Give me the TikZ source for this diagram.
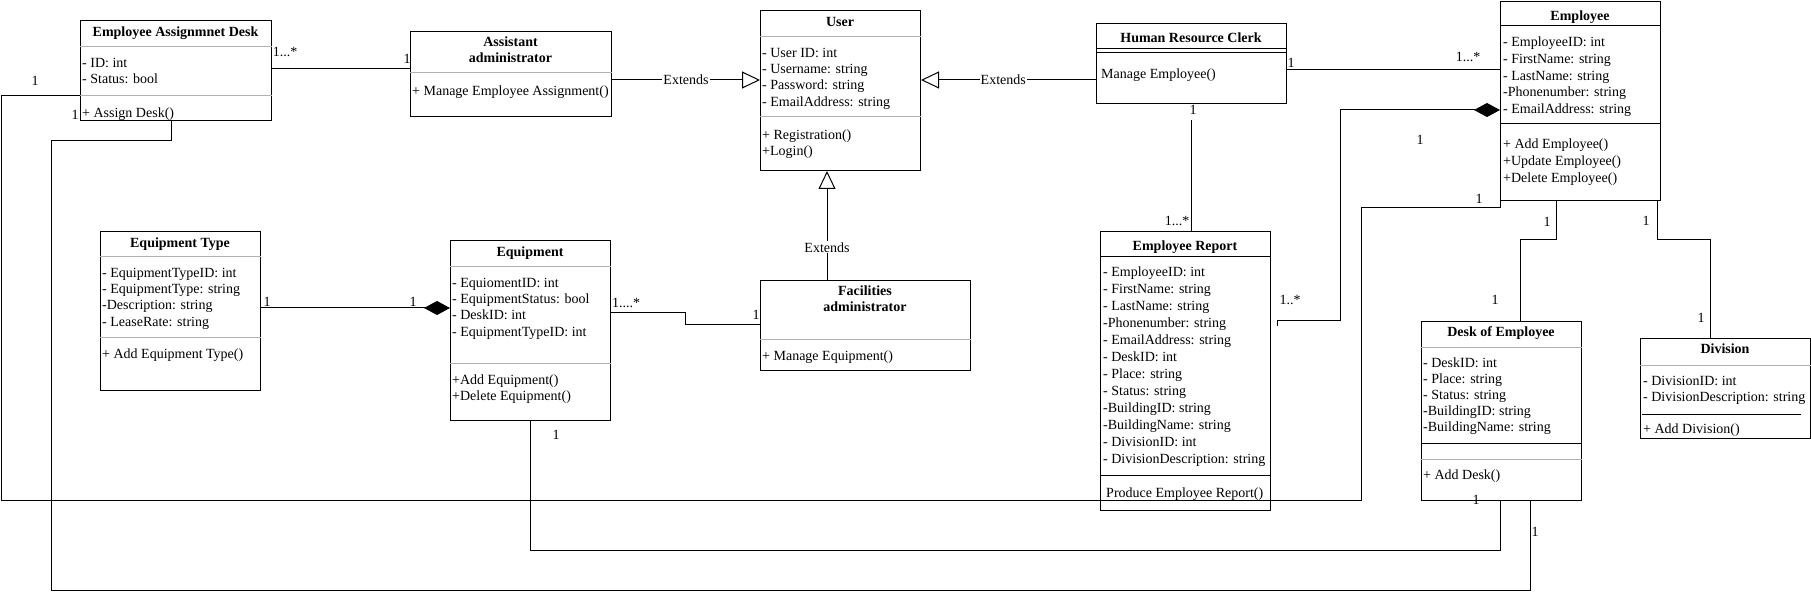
\documentclass[tikz,border=0pt]{standalone}
\usepackage{fontspec}
\setmainfont{Liberation Serif}
\usetikzlibrary{arrows.meta}
\tikzset{
 cls/.style={draw, line width=1pt, inner sep=0pt, anchor=north west},
 ttl/.style={font=\fontsize{14}{16.2}\selectfont\bfseries, inner sep=0pt, anchor=north, align=center},
 body/.style={font=\fontsize{14}{16.2}\selectfont, inner sep=0pt, anchor=north west, align=left},
 bodyemp/.style={font=\fontsize{14}{16.7}\selectfont, inner sep=0pt, anchor=north west, align=left},
 bodyer/.style={font=\fontsize{14}{17}\selectfont, inner sep=0pt, anchor=north west, align=left},
 bodydesk/.style={font=\fontsize{14}{16}\selectfont, inner sep=0pt, anchor=north west, align=left},
 sepg/.style={draw=black!30, line width=1pt},
 sepk/.style={draw=black, line width=1pt},
 conn/.style={draw, line width=1pt},
 lbl/.style={font=\fontsize{14}{16.2}\selectfont, inner sep=0pt},
 extlbl/.style={font=\fontsize{14}{16.2}\selectfont, inner sep=1pt, fill=white},
 ext/.style={-{Triangle[open,length=18pt,width=17pt]}, line width=1pt},
 comp/.style={-{Diamond[length=26pt,width=14pt]}, line width=1pt},
}
\newcommand\umlbox[5]{\node[cls, minimum width=#4pt, minimum height=#5pt] (#1) at (#2,#3) {};}
\begin{document}
\begin{tikzpicture}[x=1pt,y=-1pt]
\useasboundingbox[fill=white] (0,0) rectangle (1811,593);

% ---------- class boxes ----------
\umlbox{ead}{80}{20}{191}{100}
\umlbox{asst}{410}{31}{201}{85}
\umlbox{user}{760}{10}{160}{160}
\umlbox{hr}{1096}{23}{190}{80}
\umlbox{emp}{1500}{1}{160}{199}
\umlbox{eqt}{100}{231}{160}{159}
\umlbox{eq}{450}{240}{160}{180}
\umlbox{fac}{760}{280}{210}{90}
\umlbox{er}{1100}{231}{170}{279}
\umlbox{desk}{1421}{321}{160}{179}
\umlbox{div}{1640}{338}{170}{100}

% ---------- separators ----------
\draw[sepg] (ead.west |- 0,47) -- (ead.east |- 0,47);
\draw[sepg] (ead.west |- 0,96) -- (ead.east |- 0,96);
\draw[sepg] (asst.west |- 0,73) -- (asst.east |- 0,73);
\draw[sepg] (user.west |- 0,37) -- (user.east |- 0,37);
\draw[sepg] (user.west |- 0,117) -- (user.east |- 0,117);
\draw[sepk] (hr.west |- 0,49) -- (hr.east |- 0,49);
\draw[sepk] (hr.west |- 0,53) -- (hr.east |- 0,53);
\draw[sepk] (emp.west |- 0,26) -- (emp.east |- 0,26);
\draw[sepk] (emp.west |- 0,124) -- (emp.east |- 0,124);
\draw[sepg] (eqt.west |- 0,257) -- (eqt.east |- 0,257);
\draw[sepg] (eqt.west |- 0,337) -- (eqt.east |- 0,337);
\draw[sepg] (eq.west |- 0,267) -- (eq.east |- 0,267);
\draw[sepg] (eq.west |- 0,363) -- (eq.east |- 0,363);
\draw[sepg] (fac.west |- 0,339) -- (fac.east |- 0,339);
\draw[sepk] (er.west |- 0,257) -- (er.east |- 0,257);
\draw[sepk] (er.west |- 0,475) -- (er.east |- 0,475);
\draw[sepg] (desk.west |- 0,347) -- (desk.east |- 0,347);
\draw[sepk] (desk.west |- 0,443) -- (desk.east |- 0,443);
\draw[sepg] (desk.west |- 0,459) -- (desk.east |- 0,459);
\draw[sepg] (div.west |- 0,365) -- (div.east |- 0,365);
\draw[sepk] (1642,414) -- (1801,414);

% ---------- texts ----------
\node[ttl] (ead-t) at (175.5,25) {\strut Employee Assignmnet Desk};
\node[body] (ead-a) at (82,56) {\strut - ID: int\\- Status: bool};
\node[body] (ead-m) at (82,106) {\strut + Assign Desk()};

\node[ttl] (asst-t) at (510.5,35) {\strut Assistant\\administrator};
\node[body] (asst-m) at (412,84) {\strut + Manage Employee Assignment()};

\node[ttl] (user-t) at (840,15) {\strut User};
\node[body] (user-a) at (762,46) {\strut - User ID: int\\- Username: string\\- Password: string\\- EmailAddress: string};
\node[body] (user-m) at (762,128) {\strut + Registration()\\+Login()};

\node[ttl] (hr-t) at (1191,31) {\strut Human Resource Clerk};
\node[body] (hr-m) at (1101,67) {\strut Manage Employee()};

\node[ttl] (emp-t) at (1580,9) {\strut Employee};
\node[bodyemp] (emp-a) at (1503,35) {\strut - EmployeeID: int\\- FirstName: string\\- LastName: string\\-Phonenumber: string\\- EmailAddress: string};
\node[bodyemp] (emp-m) at (1503,137) {\strut + Add Employee()\\+Update Employee()\\+Delete Employee()};

\node[ttl] (eqt-t) at (180,236) {\strut Equipment Type};
\node[body] (eqt-a) at (102,266) {\strut - EquipmentTypeID: int\\- EquipmentType: string\\-Description: string\\- LeaseRate: string};
\node[body] (eqt-m) at (102,347) {\strut + Add Equipment Type()};

\node[ttl] (eq-t) at (530,245) {\strut Equipment};
\node[body] (eq-a) at (452,276) {\strut - EquiomentID: int\\- EquipmentStatus: bool\\- DeskID: int\\- EquipmentTypeID: int};
\node[body] (eq-m) at (452,373) {\strut +Add Equipment()\\+Delete Equipment()};

\node[ttl] (fac-t) at (865,284) {\strut Facilities\\administrator};
\node[body] (fac-m) at (762,349) {\strut + Manage Equipment()};

\node[ttl] (er-t) at (1185,239) {\strut Employee Report};
\node[bodyer] (er-a) at (1103,264) {\strut - EmployeeID: int\\- FirstName: string\\- LastName: string\\-Phonenumber: string\\- EmailAddress: string\\- DeskID: int\\- Place: string\\- Status: string\\-BuildingID: string\\-BuildingName: string\\- DivisionID: int\\- DivisionDescription: string};
\node[body] (er-m) at (1106,486) {\strut Produce Employee Report()};

\node[ttl] (desk-t) at (1501,325) {\strut Desk of Employee};
\node[bodydesk] (desk-a) at (1423,356) {\strut - DeskID: int\\- Place: string\\- Status: string\\-BuildingID: string\\-BuildingName: string};
\node[body] (desk-m) at (1423,468) {\strut + Add Desk()};

\node[ttl] (div-t) at (1725,342) {\strut Division};
\node[body] (div-a) at (1643,374) {\strut - DivisionID: int\\- DivisionDescription: string};
\node[body] (div-m) at (1643,422) {\strut + Add Division()};

% ---------- connectors ----------
% EAD -- Assistant
\draw[conn] (ead.east |- 0,69) -- (asst.west |- 0,69);
\node[lbl] (l1a) at (285,52) {1...*};
\node[lbl] (l1b) at (407,59) {1};

% generalizations
\draw[ext] (asst.east |- 0,80) -- node[extlbl] (x1) {Extends} (user.west |- 0,80);
\draw[ext] (hr.west |- 0,80) -- node[extlbl, pos=0.53] (x2) {Extends} (user.east |- 0,80);
\draw[ext] (fac.north -| 827,0) -- node[extlbl, pos=0.3] (x3) {Extends} (user.south -| 827,0);

% HR -- Employee Report
\coordinate (c5s) at (1191,120);
\draw[conn] (c5s) -- (er.north -| c5s);
\node[lbl] (l5a) at (1193,110) {1};
\node[lbl] (l5b) at (1177,221) {1...*};

% HR -- Employee
\draw[conn] (hr.east |- 0,70) -- (emp.west |- 0,70);
\node[lbl] (l6a) at (1291,63) {1};
\node[lbl] (l6b) at (1468,57) {1...*};

% Equipment Type -- Equipment (composition)
\draw[comp] (eqt.east |- 0,308) -- (eq.west |- 0,308);
\node[lbl] (l7a) at (267,302) {1};
\node[lbl] (l7b) at (413,302) {1};

% Equipment -- Facilities
\draw[conn] (eq.east |- 0,313) -| (685,319) |- (fac.west |- 0,325);
\node[lbl] (l8a) at (626,303) {1....*};
\node[lbl] (l8b) at (756,315) {1};

% EAD -- Employee (long outer)
\draw[conn] (ead.west |- 0,96) -| (1,500) -| (1361,208) -| (emp.west |- 0,187);
\node[lbl] (l9a) at (35,81) {1};
\node[lbl] (l9b) at (1479,199) {1};

% EAD -- Desk of Employee
\draw[conn] (ead.south -| 171,0) |- (51,141) |- (1530,590) -- (desk.south -| 1530,0);
\node[lbl] (l10a) at (75,115) {1};
\node[lbl] (l10b) at (1535,532) {1};

% Equipment -- Desk of Employee
\draw[conn] (eq.south -| 530,0) |- (1500,550) -- (desk.south -| 1500,0);
\node[lbl] (l11a) at (556,435) {1};
\node[lbl] (l11b) at (1476,500) {1};

% Employee -- Desk of Employee
\draw[conn] (emp.south -| 1556,0) |- (1520,240) -- (desk.north -| 1520,0);
\node[lbl] (l12a) at (1547,222) {1};
\node[lbl] (l12b) at (1495,300) {1};

% Employee -- Division
\draw[conn] (emp.south -| 1657,0) |- (1710,240) -- (div.north -| 1710,0);
\node[lbl] (l13a) at (1646,221) {1};
\node[lbl] (l13b) at (1701,318) {1};

% Employee Report -- Employee (composition)
\coordinate (c14s) at (1277,326);
\draw[comp] (c14s) |- (1340,321) |- (emp.west |- 0,110);
\node[lbl] (l14a) at (1290,300) {1..*};
\node[lbl] (l14b) at (1420,140) {1};
\end{tikzpicture}
\end{document}
